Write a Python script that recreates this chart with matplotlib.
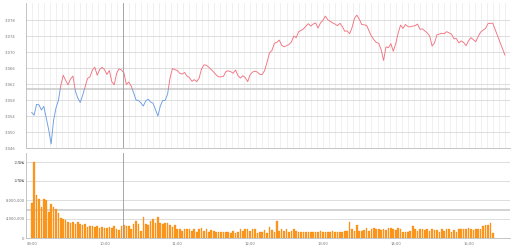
import matplotlib
matplotlib.use('Agg')
import matplotlib.pyplot as plt
from matplotlib.patches import Rectangle

plt.rcParams['font.family'] = ['DejaVu Sans', 'Noto Sans CJK KR']

# ---- data ----
prev_close = 3060.75
# index price every 2 minutes from 09:00 to 15:20 (offset from 3000)
price_2min = [
    54.9, 54.2, 56.9, 56.8, 55.5, 56.4, 53.5, 50.6, 47.0, 52.9,
    56.0, 57.9, 61.7, 64.2, 62.9, 61.8, 63.3, 64.0, 60.2, 58.5,
    57.4, 59.2, 61.3, 63.4, 63.8, 65.5, 66.2, 64.2, 65.6, 66.2,
    65.6, 64.4, 65.4, 62.6, 61.8, 64.7, 65.8, 65.5, 64.8, 61.9,
    62.5, 61.5, 59.8, 58.0, 57.9, 57.3, 56.5, 57.8, 58.2, 57.5,
    57.2, 55.6, 54.0, 56.5, 57.9, 57.9, 59.5, 63.5, 65.9, 65.6,
    65.4, 64.7, 64.5, 64.9, 64.0, 63.6, 62.7, 63.1, 62.6, 63.5,
    65.8, 66.8, 66.7, 66.2, 65.6, 65.0, 64.3, 63.8, 63.8, 63.9,
    65.1, 65.3, 65.1, 64.7, 65.5, 64.1, 63.5, 64.1, 63.6, 62.6,
    64.3, 65.0, 65.2, 65.0, 64.4, 64.4, 65.4, 67.5, 69.8, 70.4,
    72.2, 72.4, 73.0, 71.7, 71.3, 71.6, 71.9, 72.5, 74.0, 73.6,
    75.1, 75.4, 75.8, 76.5, 77.1, 76.5, 77.0, 77.3, 76.0, 77.3,
    77.9, 79.0, 78.1, 77.7, 77.3, 77.0, 76.6, 77.2, 76.4, 75.2,
    75.3, 74.6, 76.1, 78.4, 79.25, 78.2, 76.9, 76.8, 76.7, 75.3,
    74.0, 73.1, 72.4, 72.2, 70.6, 67.9, 71.3, 71.1, 72.1, 70.2,
    72.1, 74.7, 76.75, 75.9, 76.9, 76.4, 76.3, 76.5, 76.6, 77.0,
    75.7, 75.8, 75.3, 74.8, 74.0, 71.5, 72.3, 74.3, 74.5, 74.7,
    74.6, 75.1, 74.8, 74.5, 73.3, 73.4, 72.3, 72.8, 72.4, 71.6,
    72.8, 73.6, 73.1, 72.6, 73.9, 75.0, 75.5, 75.9, 77.1, 77.2,
    77.2,
]
close_1530 = 69.25
# volume per 2-minute bar, millions
volume_2min = [
    7.3, 16.1, 9.0, 8.2, 6.5, 8.3, 8.1, 5.5, 7.2, 6.6,
    6.2, 5.3, 4.3, 4.0, 3.7, 3.4, 3.1, 3.4, 3.0, 3.3,
    2.9, 2.7, 2.9, 2.3, 2.6, 2.6, 2.3, 2.5, 2.1, 2.4,
    2.1, 2.1, 2.3, 2.1, 2.5, 1.8,
    1.7, 2.5, 2.7, 2.5, 2.5, 1.8, 2.9, 3.6, 2.9, 1.5,
    4.5, 2.9, 2.7, 3.6, 4.1, 3.2, 4.5, 3.2, 2.9, 3.1,
    3.1, 2.8, 2.4, 2.7, 1.8, 1.8, 1.5, 1.8, 1.8, 1.8, 1.5,
    1.8, 1.3, 1.8, 2.2, 1.5, 1.8, 1.3, 1.7, 1.5, 1.2,
    1.3, 1.3, 1.2, 1.3, 1.2, 1.1, 1.4, 1.1, 1.3, 1.8, 1.5,
    1.8, 1.8, 1.5, 1.8, 1.8, 1.1, 1.2, 1.2, 1.7, 1.1,
    2.4, 1.7, 1.3, 3.6, 1.5, 1.8, 1.5, 1.8, 1.3, 1.5,
    1.8, 1.5, 1.2, 1.2, 1.2, 1.3, 1.3, 1.3, 1.2, 1.3,
    1.3, 1.4, 1.3, 1.3, 1.2, 1.2, 1.5, 1.3, 1.3, 1.2, 1.3,
    1.5, 1.5, 3.4, 1.8, 1.5, 2.7, 1.5, 1.5, 1.7, 2.2,
    1.5, 1.8, 2.2, 1.8, 2.0, 1.6, 1.8, 1.7, 2.2, 2.2, 1.8,
    1.7, 2.2, 1.8, 1.3, 1.3, 1.3, 1.5, 2.6, 1.8, 1.5,
    1.8, 1.8, 1.7, 1.8, 1.5, 2.0, 1.7, 1.7, 1.3, 1.8,
    1.5, 1.9, 1.8, 1.3, 1.7, 1.3, 1.8, 1.8, 2.0, 1.8, 2.2,
    1.8, 1.7, 2.0, 1.8, 2.0, 2.5, 2.7, 2.7, 3.2, 1.0,
]
hour_labels = ['09:00', '10:00', '11:00', '12:00', '13:00', '14:00', '15:00']
price_ticks = [3046, 3050, 3054, 3058, 3062, 3066, 3070, 3074, 3078]
vol_ticks = [0, 4e6, 8e6, 12e6, 16e6]
vol_tick_labels = ['0', '4,000,000', '8,000,000', '12백만', '16백만']
cursor_minute = 75.5
cursor_volume = 5.9e6

# ---- derived ----
t_price = [2 * k for k in range(len(price_2min))] + [390]
prices = [3000 + v for v in price_2min] + [3000 + close_1530]
t_vol = [2 * k for k in range(len(volume_2min))]
vols = [v * 1e6 for v in volume_2min]

W, H = 512, 250
fig = plt.figure(figsize=(W / 100, H / 100), dpi=100)
ax1 = fig.add_axes([26 / W, 1 - 148 / H, (510 - 26) / W, (148 - 3.3) / H])
ax2 = fig.add_axes([26 / W, 1 - 238 / H, (510 - 26) / W, (238 - 152.5) / H])

xlim = (-4.7, 394.2)
txt = '#777777'
fs = 2.7

# price panel
ax1.set_xlim(*xlim)
ax1.set_ylim(3046, 3082.2)
ax1.set_xticks(list(range(0, 395, 5)))
ax1.set_xticklabels([])
ax1.set_yticks(price_ticks)
ax1.set_yticklabels([f'{v:,}' for v in price_ticks])
ax1.grid(axis='x', color='#eeeeee', lw=0.6)
ax1.grid(axis='y', color='#dddddd', lw=0.7)
ax1.set_axisbelow(True)
ax1.tick_params(length=0, labelsize=fs, labelcolor=txt)
ax1.tick_params(axis='y', pad=7.5)
for s in ['top', 'right']:
    ax1.spines[s].set_visible(False)
for s in ['left', 'bottom']:
    ax1.spines[s].set_color('#bbbbbb')
    ax1.spines[s].set_linewidth(0.6)

ax1.axhline(prev_close, color='#c8c8c8', lw=1.1, zorder=2)
lr, = ax1.plot(t_price, prices, color='#f07480', lw=0.65, zorder=3)
lb, = ax1.plot(t_price, prices, color='#6c9ce2', lw=0.65, zorder=3)
lr.set_clip_path(Rectangle((xlim[0], prev_close), 500, 100, transform=ax1.transData))
lb.set_clip_path(Rectangle((xlim[0], prev_close - 100), 500, 100, transform=ax1.transData))
ax1.axvline(cursor_minute, color='#999999', lw=0.6, zorder=4)

# volume panel
ax2.set_xlim(*xlim)
ax2.set_ylim(0, 18e6)
ax2.bar(t_vol, vols, width=1.35, color='#fd9a22', edgecolor='#f58200', lw=0.2, zorder=3)
ax2.set_yticks(vol_ticks)
ax2.set_yticklabels(vol_tick_labels)
ax2.set_xticks(list(range(0, 361, 60)))
ax2.set_xticklabels(hour_labels)
ax2.grid(axis='y', color='#dddddd', lw=0.7)
ax2.set_axisbelow(True)
ax2.tick_params(length=0, labelsize=fs, labelcolor=txt)
ax2.tick_params(axis='y', pad=1)
ax2.tick_params(axis='x', pad=3)
for s in ['top', 'right']:
    ax2.spines[s].set_visible(False)
for s in ['left', 'bottom']:
    ax2.spines[s].set_color('#bbbbbb')
    ax2.spines[s].set_linewidth(0.6)
ax2.axhline(cursor_volume, color='#cccccc', lw=1.2, zorder=2)
ax2.axvline(cursor_minute, color='#999999', lw=0.6, zorder=4)

fig.savefig('out.png', dpi=100)
